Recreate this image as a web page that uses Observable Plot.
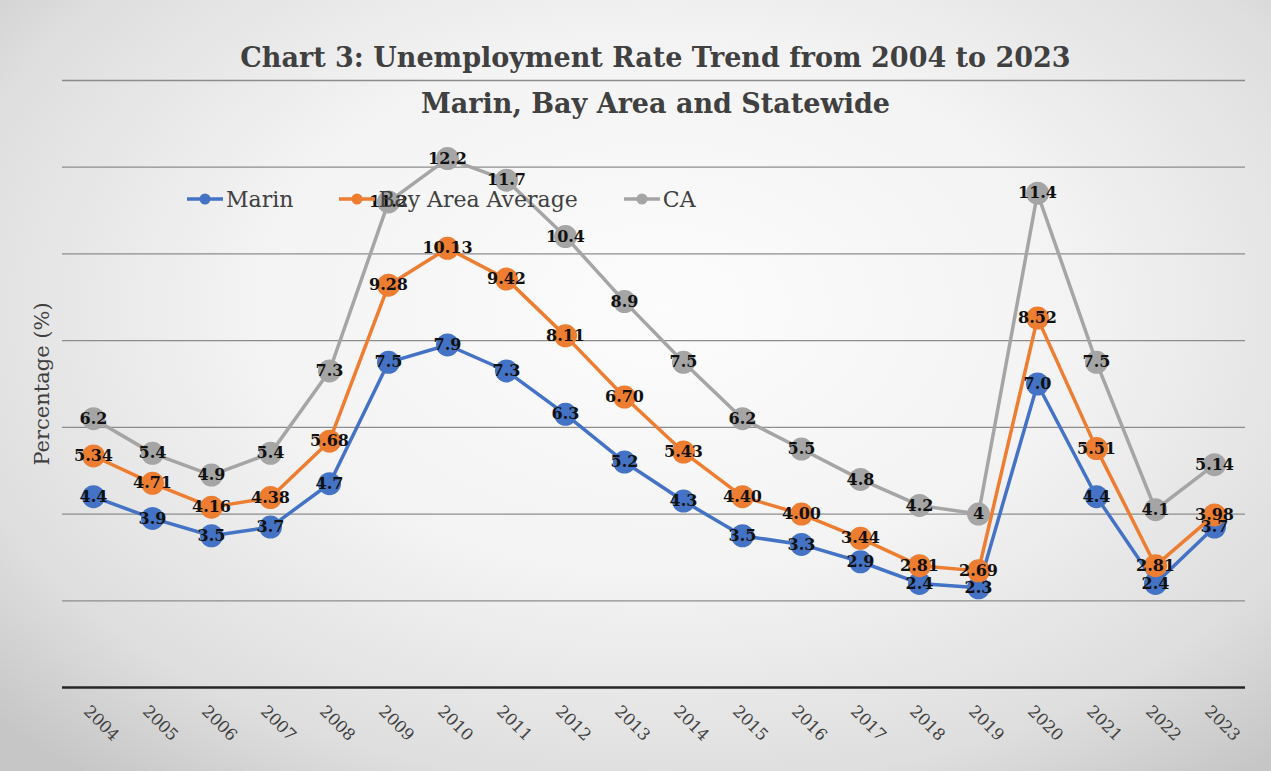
<!DOCTYPE html>
<html>
<head>
<meta charset="utf-8">
<script src="https://cdn.jsdelivr.net/npm/d3@7"></script>
<script src="https://cdn.jsdelivr.net/npm/@observablehq/plot@0.6"></script>
<style>
  html, body { margin: 0; padding: 0; background: #ffffff; }
  #chart {
    position: relative; width: 1271px; height: 771px; overflow: hidden;
    background: radial-gradient(ellipse 72% 78% at 52% 40%, #fcfcfc 0%, #f3f3f3 45%, #dedede 80%, #c6c6c6 100%);
    font-family: "DejaVu Serif", serif;
  }
  #chart > svg { position: absolute; left: 0; top: 0; }
  .title { position: absolute; left: 20px; width: 1271px; text-align: center; font-weight: bold;
           color: #404040; font-size: 27px; line-height: 32px; white-space: nowrap; }
  #legend { position: absolute; top: 185px; left: 187px; height: 28px; display: flex; align-items: center;
            gap: 46px; font-size: 22px; color: #404040; }
  .item { display: flex; align-items: center; gap: 3px; }
  .item svg { display: block; }
</style>
</head>
<body>
<div id="chart"></div>
<script>
// ---- data ----
const years = [2004, 2005, 2006, 2007, 2008, 2009, 2010, 2011, 2012, 2013,
               2014, 2015, 2016, 2017, 2018, 2019, 2020, 2021, 2022, 2023];
const marin   = [4.4, 3.9, 3.5, 3.7, 4.7, 7.5, 7.9, 7.3, 6.3, 5.2,
                 4.3, 3.5, 3.3, 2.9, 2.4, 2.3, 7.0, 4.4, 2.4, 3.7];
const bayArea = [5.34, 4.71, 4.16, 4.38, 5.68, 9.28, 10.13, 9.42, 8.11, 6.70,
                 5.43, 4.40, 4.00, 3.44, 2.81, 2.69, 8.52, 5.51, 2.81, 3.98];
const ca      = [6.2, 5.4, 4.9, 5.4, 7.3, 11.2, 12.2, 11.7, 10.4, 8.9,
                 7.5, 6.2, 5.5, 4.8, 4.2, 4, 11.4, 7.5, 4.1, 5.14];
const seriesNames  = ["Marin", "Bay Area Average", "CA"];
const seriesColors = ["#4472C4", "#ED7D31", "#A5A5A5"];
const seriesFormats = [d3.format(".1f"), d3.format(".2f"), d => String(d)];
const yGrid = [2, 4, 6, 8, 10, 12, 14];
const titleLines = ["Chart 3: Unemployment Rate Trend from 2004 to 2023", "Marin, Bay Area and Statewide"];
const yLabel = "Percentage (%)";

// ---- table ----
const seriesValues = [marin, bayArea, ca];
const rows = seriesNames.flatMap((name, si) =>
  years.map((yr, i) => ({
    series: name, year: String(yr), value: seriesValues[si][i],
    label: seriesFormats[si](seriesValues[si][i])
  })));

const seriesMarks = seriesNames.flatMap((name, si) => {
  const data = rows.filter(r => r.series === name);
  return [
    Plot.line(data, {x: "year", y: "value", stroke: seriesColors[si], strokeWidth: 3.5}),
    Plot.dot(data, {x: "year", y: "value", fill: seriesColors[si], r: 11.5})
  ];
});

const chart = Plot.plot({
  width: 1271,
  height: 771,
  marginLeft: 62,
  marginRight: 26,
  marginTop: 80,
  marginBottom: 84,
  style: {background: "transparent", fontFamily: "DejaVu Serif, serif", overflow: "visible"},
  x: {type: "point", domain: years.map(String), padding: 0.44, label: null},
  y: {domain: [0, 14], label: null, axis: null},
  marks: [
    Plot.ruleY(yGrid, {stroke: "#8c8c8c", strokeWidth: 1.3}),
    Plot.ruleY([0], {stroke: "#262626", strokeWidth: 2.6}),
    ...seriesMarks,
    Plot.text(rows, {x: "year", y: "value", text: "label", fontWeight: "bold", fontSize: 16, fill: "#111111"}),
    Plot.axisX({tickRotate: 45, tickSize: 0, tickPadding: 21, dx: -7, fontSize: 16.5, color: "#404040", label: null}),
    Plot.text([yLabel], {text: d => d, frameAnchor: "left", textAnchor: "middle", rotate: -90, dx: -20, fontSize: 21, fill: "#404040"})
  ]
});

const root = document.getElementById("chart");
root.appendChild(chart);

// titles
const titleTops = [42, 88];
titleLines.forEach((t, i) => {
  const d = document.createElement("div");
  d.className = "title";
  d.style.top = titleTops[i] + "px";
  d.textContent = t;
  root.appendChild(d);
});

// legend
const legend = document.createElement("div");
legend.id = "legend";
seriesNames.forEach((name, si) => {
  const item = document.createElement("div");
  item.className = "item";
  item.innerHTML =
    `<svg width="36" height="14"><line x1="0" y1="7" x2="36" y2="7" stroke="${seriesColors[si]}" stroke-width="3.5"/>` +
    `<circle cx="18" cy="7" r="5.5" fill="${seriesColors[si]}"/></svg><span>${name}</span>`;
  legend.appendChild(item);
});
root.appendChild(legend);
</script>
</body>
</html>
